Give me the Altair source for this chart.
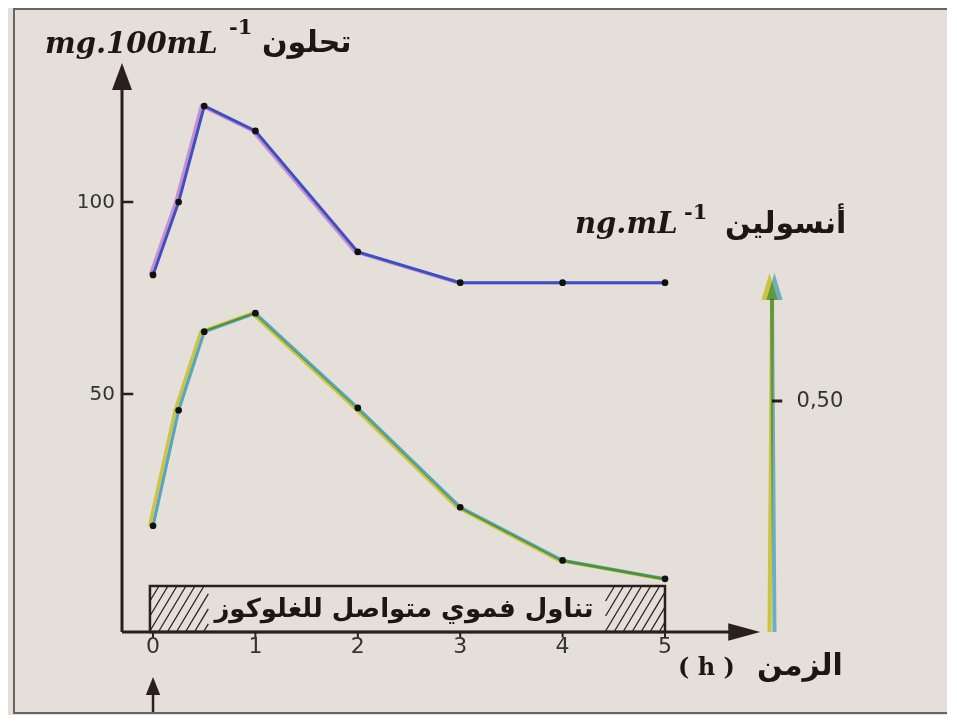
import altair as alt
import pandas as pd

# ---- data ----
time_h = [0, 0.25, 0.5, 1, 2, 3, 4, 5]
glucose = [81, 100, 125, 118.5, 87, 79, 79, 79]          # mg.100mL-1
insulin = [0.23, 0.48, 0.65, 0.69, 0.485, 0.27, 0.155, 0.115]  # ng.mL-1
x_ticks = [0, 1, 2, 3, 4, 5]
glucose_ticks = [50, 100]
insulin_ticks = [0.5]

X_DOM = [-0.303, 6.045]
G_DOM = [-11.98, 136.2]
I_DOM = [0, 1.2316]

W, H = 650, 569
BG = "#e4e0d9"
INK = "#2a1f1e"
LAB = "#333333"
SERIF = "DejaVu Serif"
SANS = "DejaVu Sans"

# insulin shares the plot through its own (right-hand) linear mapping
K = (G_DOM[1] - G_DOM[0]) / (I_DOM[1] - I_DOM[0])


def ins_to_g(v):
    return G_DOM[0] + (v - I_DOM[0]) * K


df = pd.DataFrame({"t": time_h, "g": glucose, "i": insulin})

xs = alt.Scale(domain=X_DOM, nice=False, zero=False)
gs = alt.Scale(domain=G_DOM, nice=False, zero=False)

xn = alt.X("t:Q", scale=xs, axis=None)
gy = alt.Y("g:Q", scale=gs, axis=None)
iy = alt.Y("ig:Q", scale=gs, axis=None)

base = alt.Chart(df)
ibase = base.transform_calculate(ig=f"{G_DOM[0]} + (datum.i - {I_DOM[0]}) * {K}")

# glucose curve (blue with pinkish shadow)
g_pink = base.mark_line(color="#c690cf", strokeWidth=3, xOffset=-3).encode(x=xn, y=gy)
g_blue = base.mark_line(color="#3f4fc2", strokeWidth=3).encode(x=xn, y=gy)
g_pts = base.mark_circle(color="#111111", size=45, opacity=1).encode(x=xn, y=gy)

# insulin curve (yellow + cyan, green where they overlap)
i_yel = ibase.mark_line(color="#e4de4c", strokeWidth=3.2, xOffset=-3.5, blend="multiply").encode(x=xn, y=iy)
i_cyan = ibase.mark_line(color="#62bddc", strokeWidth=3.2, blend="multiply").encode(x=xn, y=iy)
i_pts = ibase.mark_circle(color="#111111", size=45, opacity=1).encode(x=xn, y=iy)


# ---- axes drawn as arrows ----
def seg_chart(rows, color=INK, width=3, xoff=0, blend=None):
    kw = dict(color=color, strokeWidth=width, xOffset=xoff)
    if blend:
        kw["blend"] = blend
    return alt.Chart(pd.DataFrame(rows)).mark_rule(**kw).encode(
        x=alt.X("x:Q", scale=xs, axis=None), x2="x2:Q",
        y=alt.Y("y:Q", scale=gs, axis=None), y2="y2:Q")


def head(x, y, path, size, color=INK, xoff=0, blend=None):
    kw = dict(shape=path, size=size, filled=True, color=color, opacity=1,
              strokeWidth=0, xOffset=xoff)
    if blend:
        kw["blend"] = blend
    return alt.Chart(pd.DataFrame({"x": [x], "y": [y]})).mark_point(**kw).encode(
        x=alt.X("x:Q", scale=xs, axis=None), y=alt.Y("y:Q", scale=gs, axis=None))


def labels(xv, yv, labs, size, align, baseline, dx=0, dy=0):
    return alt.Chart(pd.DataFrame({"x": xv, "y": yv, "lab": labs})).mark_text(
        font=SANS, fontSize=size, color=LAB, align=align, baseline=baseline, dx=dx, dy=dy
    ).encode(x=alt.X("x:Q", scale=xs, axis=None), y=alt.Y("y:Q", scale=gs, axis=None),
             text="lab:N")


UP = "M0,0L0.37,1L-0.37,1Z"
UP_N = "M0,0L0.3,1L-0.3,1Z"
RIGHT = "M0,0L-1,-0.27L-1,0.27Z"

axis_lines = seg_chart([
    {"x": X_DOM[0], "x2": X_DOM[0], "y": G_DOM[0], "y2": 130},
    {"x": X_DOM[0], "x2": 5.7, "y": G_DOM[0], "y2": G_DOM[0]},
], width=3)
left_head = head(X_DOM[0], G_DOM[1], UP, 2916)
x_head = head(5.93, G_DOM[0], RIGHT, 4096)

# x ticks and labels
x_tick_marks = seg_chart([{"x": v, "x2": v, "y": G_DOM[0], "y2": G_DOM[0] - 1.4} for v in x_ticks],
                         width=2)
x_labels = labels(x_ticks, [G_DOM[0]] * len(x_ticks), [str(v) for v in x_ticks], 22,
                  "center", "top", dy=4)

# left (glucose) ticks and labels
left_ticks = seg_chart([{"x": X_DOM[0], "x2": X_DOM[0] + 0.11, "y": v, "y2": v}
                        for v in glucose_ticks], width=2.5)
left_labels = labels([X_DOM[0]] * len(glucose_ticks), glucose_ticks,
                     [str(v) for v in glucose_ticks], 20, "right", "middle", dx=-7)

# right (insulin) ticks and labels
right_ticks = seg_chart([{"x": X_DOM[1], "x2": X_DOM[1] + 0.1, "y": ins_to_g(v), "y2": ins_to_g(v)}
                         for v in insulin_ticks], width=3)
right_labels = labels([X_DOM[1] + 0.24] * len(insulin_ticks), [ins_to_g(v) for v in insulin_ticks],
                      [f"{v:.2f}".replace(".", ",") for v in insulin_ticks], 21, "left", "middle")

# right coloured insulin axis
r_rows = [{"x": X_DOM[1], "x2": X_DOM[1], "y": ins_to_g(0), "y2": ins_to_g(0.72)}]
r_y = seg_chart(r_rows, color="#e4de4c", width=4, xoff=-2.5, blend="multiply")
r_c = seg_chart(r_rows, color="#7cc6e0", width=4, xoff=2.5, blend="multiply")
r_hy = head(X_DOM[1], ins_to_g(0.777), UP_N, 2916, color="#e4de4c", xoff=-2.5, blend="multiply")
r_hc = head(X_DOM[1], ins_to_g(0.777), UP_N, 2916, color="#7cc6e0", xoff=2.5, blend="multiply")

# arrow under time 0
b_line = seg_chart([{"x": 0, "x2": 0, "y": -27.5, "y2": -32.8}], width=2.5)
b_head = head(0, -23.7, "M0,0L0.4,1L-0.4,1Z", 1296)

# ---- hatched box: continuous oral glucose intake ----
BOX_X = [-0.03, 5.0]
box = alt.Chart(pd.DataFrame({"x": [BOX_X[0]], "x2": [BOX_X[1]], "y": [G_DOM[0]], "y2": [0]})
                ).mark_rect(fillOpacity=0, stroke=INK, strokeWidth=2.5).encode(
    x=alt.X("x:Q", scale=xs, axis=None), x2="x2:Q",
    y=alt.Y("y:Q", scale=gs, axis=None), y2="y2:Q")

hatch = []
DX, STEP = 0.27, 0.088
for L, R in [(BOX_X[0], 0.54), (4.42, BOX_X[1])]:
    b = L - DX
    while b < R:
        s0 = max(0.0, (L - b) / DX)
        s1 = min(1.0, (R - b) / DX)
        if s1 > s0:
            hatch.append({"x": b + DX * s0, "x2": b + DX * s1,
                          "y": G_DOM[0] * (1 - s0), "y2": G_DOM[0] * (1 - s1)})
        b += STEP
hatching = seg_chart(hatch, width=1.3)

# ---- texts ----
one = pd.DataFrame({"a": [0]})


def txt(s, x, y, size, font=SANS, weight="bold", style="normal", align="left", color="#1c1615"):
    return alt.Chart(one).mark_text(text=s, font=font, fontSize=size, fontWeight=weight,
                                    fontStyle=style, align=align, baseline="alphabetic",
                                    color=color).encode(x=alt.value(x), y=alt.value(y))


texts = [
    txt("mg.100mL", -77, -10, 29, font=SERIF, style="italic"),
    txt("-1", 107, -29, 21, font=SERIF),
    txt("تحلون", 140, -11, 30),
    txt("ng.mL", 453, 170, 29, font=SERIF, style="italic"),
    txt("-1", 562, 156, 21, font=SERIF),
    txt("أنسولين", 603, 170, 30),
    txt("( h )", 556, 612, 24, font=SERIF),
    txt("الزمن", 635, 612, 30),
    txt("تناول فموي متواصل للغلوكوز", 282, 554, 26, align="center"),
]

frame = alt.Chart(one).mark_rect(fillOpacity=0, stroke="#6b6462", strokeWidth=2).encode(
    x=alt.value(-108), x2=alt.value(860), y=alt.value(-54), y2=alt.value(650))

chart = alt.layer(
    frame, box, hatching, axis_lines, left_head, left_ticks, x_head, x_tick_marks,
    x_labels, left_labels, right_ticks, right_labels, r_y, r_c, r_hy, r_hc, b_line, b_head,
    g_pink, g_blue, i_yel, i_cyan, g_pts, i_pts, *texts
).properties(
    width=W, height=H, background=BG,
    padding={"left": 114, "top": 55, "right": 175, "bottom": 83},
    autosize=alt.AutoSizeParams(type="none"),
).configure_view(stroke=None)

chart.save("out.html", embed_options={"renderer": "svg", "actions": False})
